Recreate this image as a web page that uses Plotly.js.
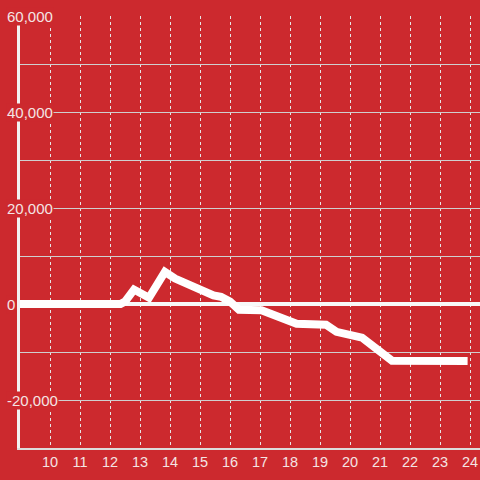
<!DOCTYPE html>
<html><head><meta charset="utf-8">
<script src="https://cdn.plot.ly/plotly-3.0.1.min.js"></script>
<style>html,body{margin:0;padding:0;background:#cc292e;}#chart{width:480px;height:480px;}</style>
</head><body><div id="chart"></div>
<script>
const hours = [9, 12.35, 12.5, 12.8, 13.3, 13.83, 14.17, 14.55, 15.0, 15.45, 15.7, 16.0, 16.3, 17.05, 18.22, 19.2, 19.55, 20.0, 20.4, 21.4, 23.92];
const values = [0, 0, 500, 3000, 1300, 6700, 5300, 4200, 2800, 1800, 1500, 500, -1200, -1300, -4100, -4300, -5800, -6300, -7000, -11800, -11900];
const xTicks = [10, 11, 12, 13, 14, 15, 16, 17, 18, 19, 20, 21, 22, 23, 24];
const yLabelValues = [60000, 40000, 20000, 0, -20000];
const yLabelTexts = ['60,000', '40,000', '20,000', '0', '-20,000'];

const bg = '#cc292e';
const txt = '#f4e4e4';

const annotations = yLabelValues.map((v, i) => ({
  xref: 'paper', yref: 'y', x: 0, y: v, xanchor: 'left', yanchor: 'middle',
  xshift: -14, text: yLabelTexts[i], showarrow: false, bgcolor: bg,
  borderpad: 0, font: {family: 'Liberation Sans, Arial, sans-serif', size: 15, color: txt}
}));

const data = [{
  x: hours, y: values, type: 'scatter', mode: 'lines',
  line: {color: '#ffffff', width: 8}, hoverinfo: 'skip'
}];

const layout = {
  width: 480, height: 480,
  margin: {l: 20, r: 0, t: 16, b: 32},
  paper_bgcolor: bg, plot_bgcolor: bg,
  showlegend: false,
  xaxis: {
    range: [9, 24.333], tickmode: 'array', tickvals: xTicks, ticktext: xTicks.map(String),
    showgrid: true, gridcolor: '#e6e6e6', griddash: 'dot', gridwidth: 1,
    showline: true, linecolor: '#dcdcdc', linewidth: 2,
    zeroline: false, ticks: '',
    tickfont: {family: 'Liberation Sans, Arial, sans-serif', size: 14.5, color: txt}
  },
  yaxis: {
    range: [-30000, 60000], dtick: 10000, tick0: 0,
    showgrid: true, gridcolor: '#cfcfcf', gridwidth: 1,
    showline: true, linecolor: '#f2f2f2', linewidth: 3,
    zeroline: true, zerolinecolor: '#f8f8f8', zerolinewidth: 4,
    showticklabels: false, ticks: ''
  },
  annotations: annotations
};

Plotly.newPlot('chart', data, layout, {staticPlot: true, displayModeBar: false});
</script>
</body></html>
